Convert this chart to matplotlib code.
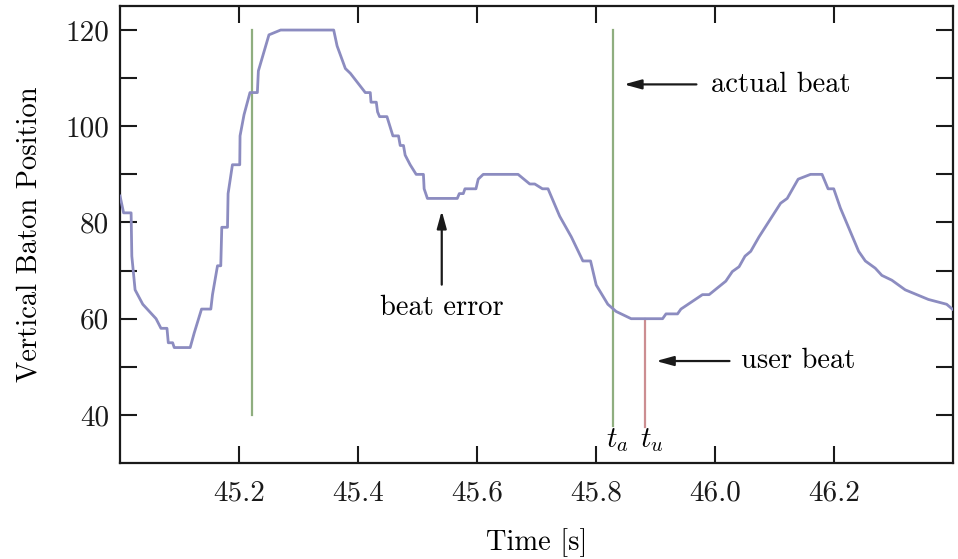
import numpy as np
import matplotlib
matplotlib.use('Agg')
import matplotlib.pyplot as plt

plt.rcParams['font.family'] = 'cmr10'
plt.rcParams['mathtext.fontset'] = 'cm'
plt.rcParams['axes.formatter.use_mathtext'] = True

# baton trace
t = [45.000, 45.006, 45.0186, 45.0198, 45.0253, 45.0382, 45.0605, 45.0688, 45.0789,
     45.0811, 45.0884, 45.0911, 45.1179, 45.1246, 45.1370, 45.1526, 45.1554, 45.1638,
     45.1693, 45.1710, 45.1806, 45.1816, 45.1889, 45.2012, 45.2017, 45.2084, 45.2184,
     45.2308, 45.2325, 45.2503, 45.2699, 45.3591, 45.3648, 45.3787, 45.3871, 45.4122,
     45.4206, 45.4218, 45.4307, 45.4328, 45.4362, 45.4486, 45.4586, 45.4680, 45.4709,
     45.4764, 45.4792, 45.4876, 45.4977, 45.5099, 45.5111, 45.5166, 45.5668, 45.5702,
     45.5769, 45.5797, 45.5982, 45.6020, 45.6104, 45.6690, 45.6886, 45.6970, 45.7099,
     45.7193, 45.7389, 45.7585, 45.7779, 45.7908, 45.8003, 45.8198, 45.8338, 45.8590,
     45.9119, 45.9176, 45.9370, 45.9427, 45.9789, 45.9901, 46.0181, 46.0291, 46.0404,
     46.0504, 46.0600, 46.0739, 46.1102, 46.1213, 46.1397, 46.1605, 46.1799, 46.1900,
     46.1995, 46.2107, 46.2414, 46.2526, 46.2693, 46.2804, 46.2972, 46.3196, 46.3586,
     46.3893, 46.3988]
pos = [85.5, 82, 82, 73, 66, 63, 60, 58, 58,
       55, 55, 54, 54, 57, 62, 62, 65, 71,
       71, 79, 79, 86, 92, 92, 98, 102.4, 107,
       107, 111.5, 119, 120, 120, 116.7, 112, 111, 107,
       107, 105, 105, 103, 102, 102, 98, 98, 96,
       96, 94, 92, 90, 90, 87, 85, 85, 86,
       86, 87, 87, 89, 90, 90, 88, 88, 87,
       87, 81.3, 77, 72, 72, 67, 63, 61.5, 60,
       60, 61, 61, 62, 65, 65, 67.8, 69.8, 70.8,
       73, 74, 77, 84, 85, 89, 90, 90, 87,
       87, 83, 74, 72, 70.5, 69, 68, 66, 64,
       63, 62]

actual_beats = [45.2213, 45.8283]
actual_lo = [40, 37.7]
user_beat = 45.8829
user_lo, user_hi = 37.5, 60
beat_hi = 120

xticks = [45.2, 45.4, 45.6, 45.8, 46.0, 46.2]
yticks = [40, 50, 60, 70, 80, 90, 100, 110, 120]

fig = plt.figure(figsize=(9.58, 5.59), dpi=100)
ax = fig.add_axes([0.1253, 0.1717, 0.8695, 0.8176])

ax.plot(t, pos, color='#8c8cc0', lw=2.0, zorder=3)
for tb, lo in zip(actual_beats, actual_lo):
    ax.plot([tb, tb], [lo, beat_hi], color='#8fae7f', lw=1.6, zorder=2)
ax.plot([user_beat, user_beat], [user_lo, user_hi], color='#cc8e91', lw=1.6, zorder=2)

arr = dict(arrowstyle='-|>,head_length=0.8,head_width=0.22', color='#1a1a1a',
           lw=1.6, mutation_scale=13)
ax.annotate('', xy=(45.5407, 83.0), xytext=(45.5407, 66.5), arrowprops=arr)
ax.text(45.5407, 62.2, 'beat error', ha='center', va='center', fontsize=20.5)
ax.annotate('', xy=(45.8422, 108.7), xytext=(45.9734, 108.7), arrowprops=arr)
ax.text(45.993, 108.7, 'actual beat', ha='left', va='center', fontsize=20.5)
ax.annotate('', xy=(45.8963, 51.2), xytext=(46.029, 51.2), arrowprops=arr)
ax.text(46.0444, 51.2, 'user beat', ha='left', va='center', fontsize=20.5)
ax.text(45.836, 34.7, '$t_a$', ha='center', va='center', fontsize=21)
ax.text(45.893, 34.7, '$t_u$', ha='center', va='center', fontsize=21)

ax.set_xlim(45.0, 46.4)
ax.set_ylim(30, 125)
ax.set_xticks(xticks)
ax.set_xticklabels([f'{v:.1f}' for v in xticks])
ax.set_yticks(yticks)
ax.set_yticklabels([str(v) if v % 20 == 0 else '' for v in yticks])
ax.tick_params(direction='in', length=12, width=1.5, top=True, right=True,
               labelsize=21, colors='#1a1a1a')
ax.tick_params(axis='x', pad=12)
ax.tick_params(axis='y', pad=8)
for s in ax.spines.values():
    s.set_linewidth(1.6)
    s.set_color('#1a1a1a')

ax.set_xlabel('Time [s]', fontsize=20.5, labelpad=16)
ax.set_ylabel('Vertical Baton Position', fontsize=20.5, labelpad=16)

fig.savefig('out.png', dpi=100)
